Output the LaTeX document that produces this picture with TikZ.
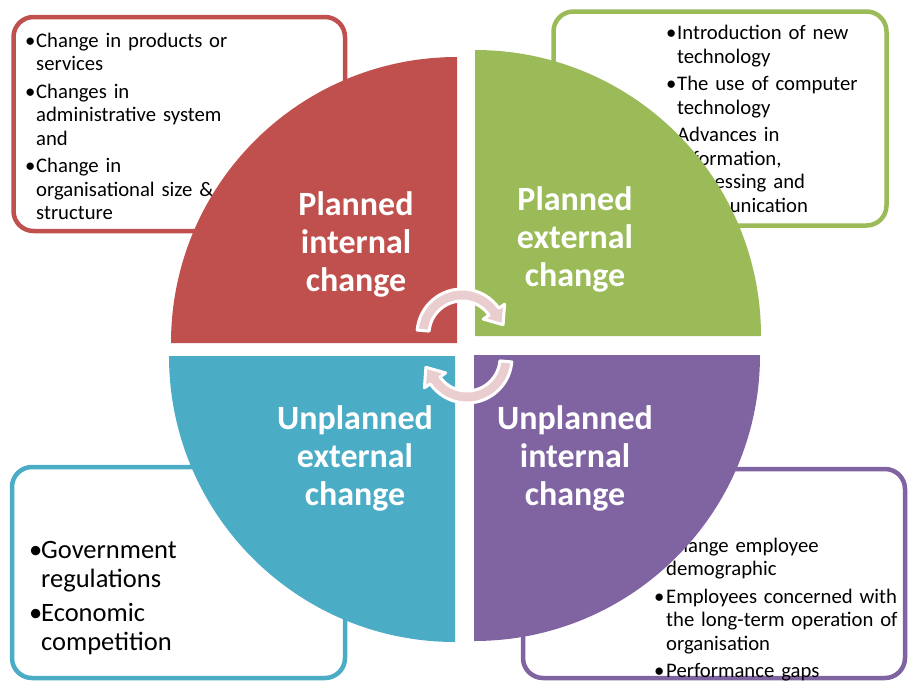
\documentclass[tikz,border=0pt]{standalone}
\usepackage{fontspec}
\setmainfont{Carlito}
\usetikzlibrary{positioning}
\usepackage{xcolor}

\definecolor{redq}{HTML}{C0504D}
\definecolor{greenq}{HTML}{9BBB59}
\definecolor{blueq}{HTML}{4BACC6}
\definecolor{purpleq}{HTML}{8064A2}
\definecolor{pinkarrow}{RGB}{234,205,206}

\newlength{\bind}
\newcommand{\bitem}[1]{\par\hangindent=\bind\hangafter=1\noindent\hbox to\bind{\textbullet\hss}#1\par}

\tikzset{
    infobox/.style={draw=#1, line width=4.5pt, rounded corners=20pt, fill=white},
    boxtext/.style={anchor=north west, inner sep=0pt, text width=280pt,
        font=\fontsize{20.7}{23.4}\selectfont},
    quadlabel/.style={text=white, align=center, inner sep=0pt,
        font=\bfseries\fontsize{34}{38}\selectfont},
    cyclearrow/.style={fill=pinkarrow, draw=white, line width=3pt, line join=round}
}

\begin{document}
\begin{tikzpicture}[x=1pt, y=-1pt]
        \useasboundingbox (0,0) rectangle (908,681);

        % boxes behind the circle
        \draw[infobox=redq] (13.5,17) rectangle (345,231);
        \draw[infobox=greenq] (553.5,11.5) rectangle (886.5,225.5);
        \draw[infobox=blueq] (12,467) rectangle (345,678);
        \draw[infobox=purpleq] (523,469) rectangle (905,678);

        \node (1) [boxtext] at (25,19.5)
        {
            \raggedright\setlength{\bind}{11pt}\setlength{\parskip}{4.2pt}
            \bitem{Change in products or\newline services}
            \bitem{Changes in\newline administrative system\newline and}
            \bitem{Change in\newline organisational size \&\newline structure}
        };

        \node (2) [boxtext] at (666,12)
        {
            \raggedright\setlength{\bind}{11pt}\setlength{\parskip}{4.2pt}
            \bitem{Introduction of new\newline technology}
            \bitem{The use of computer\newline technology}
            \bitem{Advances in\newline information,\newline processing and\newline communication}
        };

        \node (3) [boxtext, font=\fontsize{26.5}{29}\selectfont] at (29,524)
        {
            \raggedright\setlength{\bind}{12pt}\setlength{\parskip}{5pt}
            \bitem{Government\newline regulations}
            \bitem{Economic\newline competition}
        };

        \node (4) [boxtext] at (654,524.5)
        {
            \raggedright\setlength{\bind}{12pt}\setlength{\parskip}{4.2pt}
            \bitem{Change employee\newline demographic}
            \bitem{Employees concerned with\newline the long-term operation of\newline organisation}
            \bitem{Performance gaps}
        };

        % the four quadrants
        \fill[redq] (457,343) -- ++(-286,0) arc[start angle=180, end angle=270, radius=286] -- cycle;
        \fill[greenq] (475,336) -- ++(0,-286) arc[start angle=270, end angle=360, radius=286] -- cycle;
        \fill[purpleq] (474,355) -- ++(286,0) arc[start angle=0, end angle=90, radius=286] -- cycle;
        \fill[blueq] (455,356) -- ++(0,286) arc[start angle=90, end angle=180, radius=286] -- cycle;

        \node (5) [quadlabel] at (356,244) {Planned\\internal\\change};
        \node (6) [quadlabel] at (575,239) {Planned\\external\\change};
        \node (7) [quadlabel] at (355,458) {Unplanned\\external\\change};
        \node (8) [quadlabel] at (575,458) {Unplanned\\internal\\change};

        % cycle arrows in the middle
        \foreach \cx/\cy/\rot in {462/334/0, 467/358/180}
        {
            \draw[cyclearrow, shift={(\cx,\cy)}, rotate=\rot]
                (185:45) arc[start angle=185, end angle=325, radius=45]
                -- (325:52) -- (41.1,-9.3) -- (325:26) -- (325:33)
                arc[start angle=325, end angle=185, radius=33] -- cycle;
        }
    \end{tikzpicture}
\end{document}
